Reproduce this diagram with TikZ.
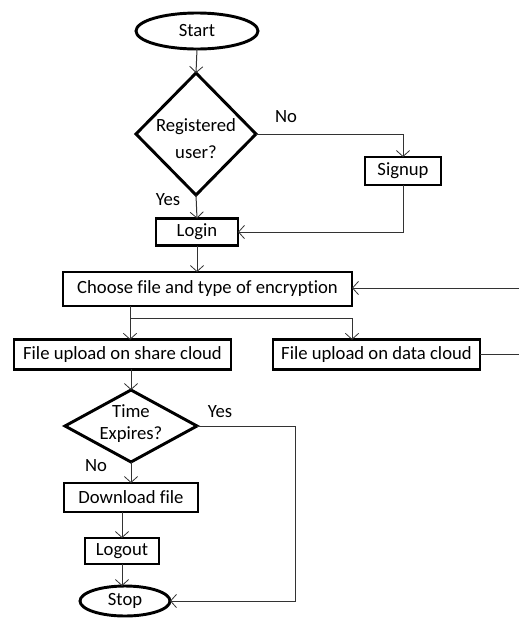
\documentclass[tikz,border=0pt]{standalone}
\usepackage{fontspec}
\setmainfont{Carlito}[Ligatures=NoCommon]
\usetikzlibrary{shapes.geometric,arrows.meta,calc}
\begin{document}
\begin{tikzpicture}[x=0.75pt,y=-0.75pt,
  font=\fontsize{14}{17}\selectfont,
  every node/.style={inner sep=0pt,outer sep=0pt},
  stepbox/.style={draw=black,line width=2.2pt,fill=white,rectangle,align=center},
  terminal/.style={draw=black,line width=2.2pt,fill=white,ellipse,align=center},
  decision/.style={draw=black,line width=2.2pt,fill=white,diamond,align=center},
  dtext/.style={align=center},
  flow/.style={draw=black!80,line width=0.75pt},
  arr/.style={flow,-{Straight Barb[length=4.5pt,width=10pt,line width=0.6pt]}},
  lbl/.style={font=\fontsize{14}{17}\selectfont}]
\useasboundingbox (0,0) rectangle (519,618);

% nodes
\node[terminal,minimum width=91.5pt,minimum height=27pt] (start) at (197,31) {Start};
\node[decision,minimum width=90pt,minimum height=91.5pt] (reg) at (196,134) {};
\node[dtext] (regtext) at (196,138.5) {Registered\\[3pt]user?};
\node[stepbox,minimum width=57pt,minimum height=21pt] (signup) at (403,171) {Signup};
\node[stepbox,minimum width=61.5pt,minimum height=20.25pt] (login) at (197,232) {Login};
\node[stepbox,minimum width=216.75pt,minimum height=25.5pt] (choose) at (207.5,289) {Choose file and type of encryption};
\node[stepbox,minimum width=162.75pt,minimum height=22pt] (share) at (122.5,354.5) {File upload on share cloud};
\node[stepbox,minimum width=155.25pt,minimum height=22pt] (data) at (376.5,354.5) {File upload on data cloud};
\node[decision,minimum width=99pt,minimum height=54pt] (time) at (131,426) {};
\node[dtext] (timetext) at (131,423.5) {Time\\Expires?};
\node[stepbox,minimum width=100.5pt,minimum height=21.75pt] (download) at (131,497.5) {Download file};
\node[stepbox,minimum width=55.5pt,minimum height=19.5pt] (logout) at (122,551) {Logout};
\node[terminal,minimum width=67.5pt,minimum height=22.5pt] (stop) at (125,601) {Stop};

% branch labels
\node[lbl] (noA) at (286,117) {No};
\node[lbl] (yesA) at (168,200) {Yes};
\node[lbl] (yesB) at (220,412) {Yes};
\node[lbl] (noB) at (96,466) {No};

% helper points
\coordinate (split) at (130,318);
\coordinate (branch) at (352,318);
\coordinate (edgeA) at (519,288);
\coordinate (edgeB) at (519,351);
\coordinate (side) at (295,426);

% connectors
\draw[arr] (start.south) -- (reg.north);
\draw[arr] (reg.east) -- (reg.east -| signup.north) -- (signup.north);
\draw[arr] (signup.south) -- (signup.south |- login.east) -- (login.east);
\draw[arr] (reg.south) -- (login.north);
\draw[arr] (login.south) -- (login.south |- choose.north);
\draw[arr] (edgeA) -- (edgeA -| choose.east);
\draw[flow] (data.east) -- (data.east -| edgeB);
\draw[arr] (choose.south -| split) -- (split |- share.north);
\draw[arr] (split) -- (branch) -- (branch |- data.north);
\draw[arr] (share.south -| time.north) -- (time.north);
\draw[arr] (time.south) -- (download.north);
\draw[arr] (download.south -| logout.north) -- (logout.north);
\draw[arr] (logout.south) -- (logout.south |- stop.north);
\draw[arr] (time.east) -- (side) -- (side |- stop.east) -- (stop.east);
\end{tikzpicture}
\end{document}
